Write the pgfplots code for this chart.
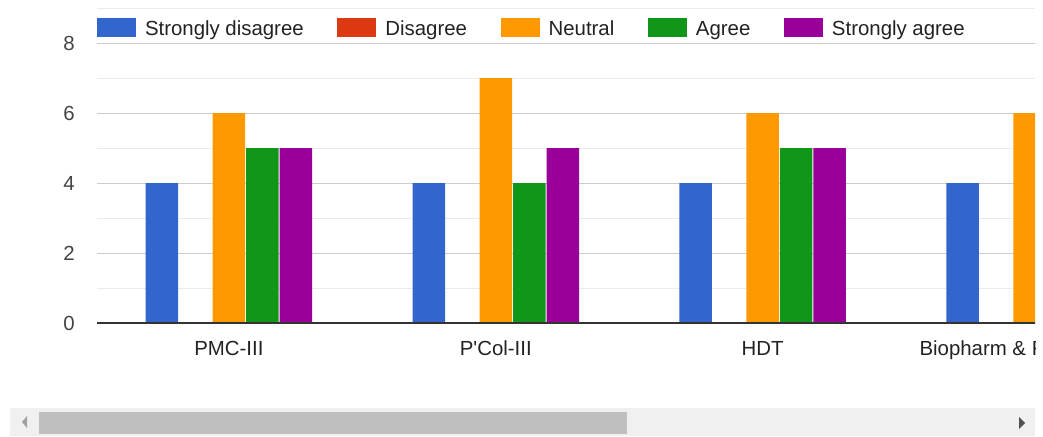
\documentclass[border=0pt]{standalone}
\usepackage{pgfplots}
\pgfplotsset{compat=1.18}
\usepackage{fontspec}
\setmainfont{Liberation Sans}
\definecolor{sd}{HTML}{3366CC}
\definecolor{di}{HTML}{DC3912}
\definecolor{ne}{HTML}{FF9900}
\definecolor{ag}{HTML}{109618}
\definecolor{sa}{HTML}{990099}
\definecolor{majg}{HTML}{CCCCCC}
\definecolor{ming}{HTML}{EBEBEB}
\definecolor{basec}{HTML}{333333}
\definecolor{lbl}{HTML}{444444}
\definecolor{txt}{HTML}{222222}
\pgfplotsset{
  mybar/.style={ybar, bar width=0.1217, draw=none, fill=#1,
    legend image code/.code={\fill[#1] (0pt,-4.75pt) rectangle (19.5pt,4.75pt);}},
}
\begin{document}
\fontsize{10.2pt}{12pt}\selectfont
\begin{tikzpicture}
\useasboundingbox (0,0) rectangle (521.5pt,218pt);
\clip (0,0) rectangle (517.5pt,218pt);
\begin{axis}[
  at={(48.5pt,56.5pt)}, anchor=south west,
  width=469pt, height=157.5pt, scale only axis,
  xmin=-0.4944, xmax=3.0206, ymin=0, ymax=9,
  axis line style={draw=none},
  major tick length=0pt, minor tick length=0pt,
  ytick={0,2,4,6,8}, minor ytick={1,3,5,7,9},
  ymajorgrids, yminorgrids,
  major grid style={majg, line width=0.5pt},
  minor grid style={ming, line width=0.5pt},
  xtick={0,1,2,3},
  xticklabels={PMC-III, P\textquotesingle Col-III, HDT, Biopharm \& Formulation},
  x tick label style={anchor=base, yshift=-16pt, inner sep=0pt, text=txt},
  y tick label style={anchor=east, xshift=-11pt, inner sep=0pt, text=lbl},
  /pgf/number format/assume math mode=true,
  legend columns=-1,
  legend cell align=left,
  legend style={at={(0,1)}, anchor=north west, yshift=-5pt,
    draw=none, fill=none, inner sep=0pt, outer sep=0pt,
    nodes={inner sep=0pt, outer sep=0pt, text=txt, yshift=-1pt},
    column sep=0pt,
    /tikz/every odd column/.append style={column sep=4.5pt},
    /tikz/every even column/.append style={column sep=16.8pt}},
]
\addplot[mybar=sd, bar shift=-0.251] coordinates {(0,4) (1,4) (2,4) (3,4)};
\addplot[mybar=di, bar shift=-0.1255] coordinates {(0,0) (1,0) (2,0) (3,0)};
\addplot[mybar=ne, bar shift=0] coordinates {(0,6) (1,7) (2,6) (3,6)};
\addplot[mybar=ag, bar shift=0.1255] coordinates {(0,5) (1,4) (2,5) (3,5)};
\addplot[mybar=sa, bar shift=0.251] coordinates {(0,5) (1,5) (2,5) (3,5)};
\legend{Strongly disagree, Disagree, Neutral, Agree, Strongly agree}
\draw[basec, line width=1pt] (axis cs:-0.5,0) -- (axis cs:3.1,0);
\end{axis}
% scrollbar
\fill[black!6] (5pt,0pt) rectangle (517.5pt,14pt);
\fill[black!25] (19.5pt,1pt) rectangle (313.5pt,12pt);
\fill[black!37] (11pt,7pt) -- (13.5pt,10pt) -- (13.5pt,4pt) -- cycle;
\fill[black!68] (512.5pt,6.5pt) -- (509.5pt,9.5pt) -- (509.5pt,3.5pt) -- cycle;
\end{tikzpicture}
\end{document}
